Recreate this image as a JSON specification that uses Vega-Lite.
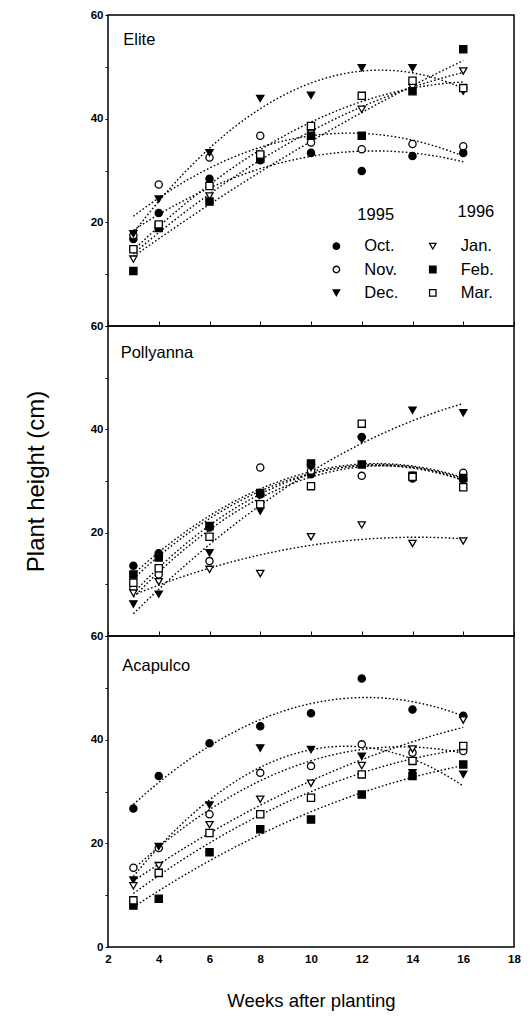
{
  "$schema": "https://vega.github.io/schema/vega-lite/v6.json",
  "background": "white",
  "padding": {"left": 23, "top": 8, "right": 10, "bottom": 10},
  "spacing": 0,
  "bounds": "flush",
  "config": {
    "font": "Liberation Sans",
    "view": {"stroke": "black", "strokeWidth": 1.5},
    "concat": {"spacing": 0},
    "axis": {
      "labelFont": "Liberation Sans",
      "labelFontWeight": "bold",
      "labelFontSize": 11.5,
      "labelColor": "black",
      "tickColor": "black",
      "domainColor": "black",
      "grid": false,
      "titleFont": "Liberation Sans",
      "titleFontWeight": "normal",
      "titleColor": "black"
    }
  },
  "datasets": {
    "heights": [
      {"cultivar": "Elite", "month": "Oct.", "week": 3, "height": 16.8},
      {"cultivar": "Elite", "month": "Oct.", "week": 4, "height": 21.8},
      {"cultivar": "Elite", "month": "Oct.", "week": 6, "height": 28.4},
      {"cultivar": "Elite", "month": "Oct.", "week": 8, "height": 32.0},
      {"cultivar": "Elite", "month": "Oct.", "week": 10, "height": 33.4},
      {"cultivar": "Elite", "month": "Oct.", "week": 12, "height": 29.9},
      {"cultivar": "Elite", "month": "Oct.", "week": 14, "height": 32.8},
      {"cultivar": "Elite", "month": "Oct.", "week": 16, "height": 33.4},
      {"cultivar": "Elite", "month": "Nov.", "week": 3, "height": 17.5},
      {"cultivar": "Elite", "month": "Nov.", "week": 4, "height": 27.3},
      {"cultivar": "Elite", "month": "Nov.", "week": 6, "height": 32.5},
      {"cultivar": "Elite", "month": "Nov.", "week": 8, "height": 36.7},
      {"cultivar": "Elite", "month": "Nov.", "week": 10, "height": 35.4},
      {"cultivar": "Elite", "month": "Nov.", "week": 12, "height": 34.1},
      {"cultivar": "Elite", "month": "Nov.", "week": 14, "height": 35.1},
      {"cultivar": "Elite", "month": "Nov.", "week": 16, "height": 34.7},
      {"cultivar": "Elite", "month": "Dec.", "week": 3, "height": 17.8},
      {"cultivar": "Elite", "month": "Dec.", "week": 4, "height": 24.5},
      {"cultivar": "Elite", "month": "Dec.", "week": 6, "height": 33.4},
      {"cultivar": "Elite", "month": "Dec.", "week": 8, "height": 43.9},
      {"cultivar": "Elite", "month": "Dec.", "week": 10, "height": 44.5},
      {"cultivar": "Elite", "month": "Dec.", "week": 12, "height": 49.8},
      {"cultivar": "Elite", "month": "Dec.", "week": 14, "height": 49.8},
      {"cultivar": "Elite", "month": "Dec.", "week": 16, "height": 45.3},
      {"cultivar": "Elite", "month": "Jan.", "week": 3, "height": 12.9},
      {"cultivar": "Elite", "month": "Jan.", "week": 4, "height": 19.3},
      {"cultivar": "Elite", "month": "Jan.", "week": 6, "height": 25.1},
      {"cultivar": "Elite", "month": "Jan.", "week": 8, "height": 32.8},
      {"cultivar": "Elite", "month": "Jan.", "week": 10, "height": 37.2},
      {"cultivar": "Elite", "month": "Jan.", "week": 12, "height": 41.8},
      {"cultivar": "Elite", "month": "Jan.", "week": 14, "height": 46.0},
      {"cultivar": "Elite", "month": "Jan.", "week": 16, "height": 49.2},
      {"cultivar": "Elite", "month": "Feb.", "week": 3, "height": 10.6},
      {"cultivar": "Elite", "month": "Feb.", "week": 4, "height": 18.9},
      {"cultivar": "Elite", "month": "Feb.", "week": 6, "height": 24.0},
      {"cultivar": "Elite", "month": "Feb.", "week": 8, "height": 32.2},
      {"cultivar": "Elite", "month": "Feb.", "week": 10, "height": 36.7},
      {"cultivar": "Elite", "month": "Feb.", "week": 12, "height": 36.7},
      {"cultivar": "Elite", "month": "Feb.", "week": 14, "height": 45.3},
      {"cultivar": "Elite", "month": "Feb.", "week": 16, "height": 53.4},
      {"cultivar": "Elite", "month": "Mar.", "week": 3, "height": 14.8},
      {"cultivar": "Elite", "month": "Mar.", "week": 4, "height": 19.6},
      {"cultivar": "Elite", "month": "Mar.", "week": 6, "height": 27.0},
      {"cultivar": "Elite", "month": "Mar.", "week": 8, "height": 33.1},
      {"cultivar": "Elite", "month": "Mar.", "week": 10, "height": 38.6},
      {"cultivar": "Elite", "month": "Mar.", "week": 12, "height": 44.4},
      {"cultivar": "Elite", "month": "Mar.", "week": 14, "height": 47.3},
      {"cultivar": "Elite", "month": "Mar.", "week": 16, "height": 45.9},

      {"cultivar": "Pollyanna", "month": "Oct.", "week": 3, "height": 13.6},
      {"cultivar": "Pollyanna", "month": "Oct.", "week": 4, "height": 16.0},
      {"cultivar": "Pollyanna", "month": "Oct.", "week": 6, "height": 21.0},
      {"cultivar": "Pollyanna", "month": "Oct.", "week": 8, "height": 27.4},
      {"cultivar": "Pollyanna", "month": "Oct.", "week": 10, "height": 31.3},
      {"cultivar": "Pollyanna", "month": "Oct.", "week": 12, "height": 38.5},
      {"cultivar": "Pollyanna", "month": "Oct.", "week": 14, "height": 30.5},
      {"cultivar": "Pollyanna", "month": "Oct.", "week": 16, "height": 30.3},
      {"cultivar": "Pollyanna", "month": "Nov.", "week": 3, "height": 9.2},
      {"cultivar": "Pollyanna", "month": "Nov.", "week": 4, "height": 11.9},
      {"cultivar": "Pollyanna", "month": "Nov.", "week": 6, "height": 14.5},
      {"cultivar": "Pollyanna", "month": "Nov.", "week": 8, "height": 32.6},
      {"cultivar": "Pollyanna", "month": "Nov.", "week": 10, "height": 32.0},
      {"cultivar": "Pollyanna", "month": "Nov.", "week": 12, "height": 31.0},
      {"cultivar": "Pollyanna", "month": "Nov.", "week": 14, "height": 31.0},
      {"cultivar": "Pollyanna", "month": "Nov.", "week": 16, "height": 31.6},
      {"cultivar": "Pollyanna", "month": "Dec.", "week": 3, "height": 6.2},
      {"cultivar": "Pollyanna", "month": "Dec.", "week": 4, "height": 8.1},
      {"cultivar": "Pollyanna", "month": "Dec.", "week": 6, "height": 16.1},
      {"cultivar": "Pollyanna", "month": "Dec.", "week": 8, "height": 24.2},
      {"cultivar": "Pollyanna", "month": "Dec.", "week": 10, "height": 32.6},
      {"cultivar": "Pollyanna", "month": "Dec.", "week": 12, "height": 38.0},
      {"cultivar": "Pollyanna", "month": "Dec.", "week": 14, "height": 43.7},
      {"cultivar": "Pollyanna", "month": "Dec.", "week": 16, "height": 43.2},
      {"cultivar": "Pollyanna", "month": "Jan.", "week": 3, "height": 8.3},
      {"cultivar": "Pollyanna", "month": "Jan.", "week": 4, "height": 10.5},
      {"cultivar": "Pollyanna", "month": "Jan.", "week": 6, "height": 12.9},
      {"cultivar": "Pollyanna", "month": "Jan.", "week": 8, "height": 12.1},
      {"cultivar": "Pollyanna", "month": "Jan.", "week": 10, "height": 19.2},
      {"cultivar": "Pollyanna", "month": "Jan.", "week": 12, "height": 21.5},
      {"cultivar": "Pollyanna", "month": "Jan.", "week": 14, "height": 17.9},
      {"cultivar": "Pollyanna", "month": "Jan.", "week": 16, "height": 18.4},
      {"cultivar": "Pollyanna", "month": "Feb.", "week": 3, "height": 11.9},
      {"cultivar": "Pollyanna", "month": "Feb.", "week": 4, "height": 15.2},
      {"cultivar": "Pollyanna", "month": "Feb.", "week": 6, "height": 21.3},
      {"cultivar": "Pollyanna", "month": "Feb.", "week": 8, "height": 27.7},
      {"cultivar": "Pollyanna", "month": "Feb.", "week": 10, "height": 33.4},
      {"cultivar": "Pollyanna", "month": "Feb.", "week": 12, "height": 33.2},
      {"cultivar": "Pollyanna", "month": "Feb.", "week": 14, "height": 31.0},
      {"cultivar": "Pollyanna", "month": "Feb.", "week": 16, "height": 30.6},
      {"cultivar": "Pollyanna", "month": "Mar.", "week": 3, "height": 10.3},
      {"cultivar": "Pollyanna", "month": "Mar.", "week": 4, "height": 13.1},
      {"cultivar": "Pollyanna", "month": "Mar.", "week": 6, "height": 19.2},
      {"cultivar": "Pollyanna", "month": "Mar.", "week": 8, "height": 25.5},
      {"cultivar": "Pollyanna", "month": "Mar.", "week": 10, "height": 29.0},
      {"cultivar": "Pollyanna", "month": "Mar.", "week": 12, "height": 41.1},
      {"cultivar": "Pollyanna", "month": "Mar.", "week": 14, "height": 30.8},
      {"cultivar": "Pollyanna", "month": "Mar.", "week": 16, "height": 28.8},

      {"cultivar": "Acapulco", "month": "Oct.", "week": 3, "height": 26.7},
      {"cultivar": "Acapulco", "month": "Oct.", "week": 4, "height": 33.0},
      {"cultivar": "Acapulco", "month": "Oct.", "week": 6, "height": 39.3},
      {"cultivar": "Acapulco", "month": "Oct.", "week": 8, "height": 42.6},
      {"cultivar": "Acapulco", "month": "Oct.", "week": 10, "height": 45.1},
      {"cultivar": "Acapulco", "month": "Oct.", "week": 12, "height": 51.8},
      {"cultivar": "Acapulco", "month": "Oct.", "week": 14, "height": 45.8},
      {"cultivar": "Acapulco", "month": "Oct.", "week": 16, "height": 44.6},
      {"cultivar": "Acapulco", "month": "Nov.", "week": 3, "height": 15.3},
      {"cultivar": "Acapulco", "month": "Nov.", "week": 4, "height": 19.1},
      {"cultivar": "Acapulco", "month": "Nov.", "week": 6, "height": 25.6},
      {"cultivar": "Acapulco", "month": "Nov.", "week": 8, "height": 33.6},
      {"cultivar": "Acapulco", "month": "Nov.", "week": 10, "height": 34.9},
      {"cultivar": "Acapulco", "month": "Nov.", "week": 12, "height": 39.1},
      {"cultivar": "Acapulco", "month": "Nov.", "week": 14, "height": 37.5},
      {"cultivar": "Acapulco", "month": "Nov.", "week": 16, "height": 37.8},
      {"cultivar": "Acapulco", "month": "Dec.", "week": 3, "height": 12.9},
      {"cultivar": "Acapulco", "month": "Dec.", "week": 4, "height": 19.4},
      {"cultivar": "Acapulco", "month": "Dec.", "week": 6, "height": 27.4},
      {"cultivar": "Acapulco", "month": "Dec.", "week": 8, "height": 38.4},
      {"cultivar": "Acapulco", "month": "Dec.", "week": 10, "height": 38.1},
      {"cultivar": "Acapulco", "month": "Dec.", "week": 12, "height": 36.8},
      {"cultivar": "Acapulco", "month": "Dec.", "week": 14, "height": 33.6},
      {"cultivar": "Acapulco", "month": "Dec.", "week": 16, "height": 33.3},
      {"cultivar": "Acapulco", "month": "Jan.", "week": 3, "height": 11.8},
      {"cultivar": "Acapulco", "month": "Jan.", "week": 4, "height": 15.7},
      {"cultivar": "Acapulco", "month": "Jan.", "week": 6, "height": 23.6},
      {"cultivar": "Acapulco", "month": "Jan.", "week": 8, "height": 28.5},
      {"cultivar": "Acapulco", "month": "Jan.", "week": 10, "height": 31.6},
      {"cultivar": "Acapulco", "month": "Jan.", "week": 12, "height": 35.0},
      {"cultivar": "Acapulco", "month": "Jan.", "week": 14, "height": 38.2},
      {"cultivar": "Acapulco", "month": "Jan.", "week": 16, "height": 43.8},
      {"cultivar": "Acapulco", "month": "Feb.", "week": 3, "height": 8.0},
      {"cultivar": "Acapulco", "month": "Feb.", "week": 4, "height": 9.3},
      {"cultivar": "Acapulco", "month": "Feb.", "week": 6, "height": 18.3},
      {"cultivar": "Acapulco", "month": "Feb.", "week": 8, "height": 22.7},
      {"cultivar": "Acapulco", "month": "Feb.", "week": 10, "height": 24.6},
      {"cultivar": "Acapulco", "month": "Feb.", "week": 12, "height": 29.4},
      {"cultivar": "Acapulco", "month": "Feb.", "week": 14, "height": 33.0},
      {"cultivar": "Acapulco", "month": "Feb.", "week": 16, "height": 35.2},
      {"cultivar": "Acapulco", "month": "Mar.", "week": 3, "height": 9.0},
      {"cultivar": "Acapulco", "month": "Mar.", "week": 4, "height": 14.3},
      {"cultivar": "Acapulco", "month": "Mar.", "week": 6, "height": 22.0},
      {"cultivar": "Acapulco", "month": "Mar.", "week": 8, "height": 25.6},
      {"cultivar": "Acapulco", "month": "Mar.", "week": 10, "height": 28.8},
      {"cultivar": "Acapulco", "month": "Mar.", "week": 12, "height": 33.3},
      {"cultivar": "Acapulco", "month": "Mar.", "week": 14, "height": 35.9},
      {"cultivar": "Acapulco", "month": "Mar.", "week": 16, "height": 38.8}
    ],
    "legendKeys": [
      {"month": "Oct.", "week": 11.0, "height": 15.4, "labelWeek": 12.1},
      {"month": "Nov.", "week": 11.0, "height": 10.9, "labelWeek": 12.1},
      {"month": "Dec.", "week": 11.0, "height": 6.4, "labelWeek": 12.1},
      {"month": "Jan.", "week": 14.8, "height": 15.4, "labelWeek": 15.9},
      {"month": "Feb.", "week": 14.8, "height": 10.9, "labelWeek": 15.9},
      {"month": "Mar.", "week": 14.8, "height": 6.4, "labelWeek": 15.9}
    ],
    "legendYears": [
      {"year": "1995", "week": 12.55, "height": 21.5},
      {"year": "1996", "week": 16.5, "height": 21.9}
    ]
  },
  "vconcat": [
    {
      "width": 406,
      "height": 311,
      "layer": [
        {
          "data": {"name": "heights"},
          "transform": [
            {"filter": "datum.cultivar === 'Elite'"},
            {"regression": "height", "on": "week", "groupby": ["month"], "method": "poly", "order": 2, "extent": [3, 16]}
          ],
          "mark": {"type": "line", "color": "black", "strokeWidth": 1.4, "strokeDash": [1.6, 2.2], "clip": true},
          "encoding": {
            "x": {"field": "week", "type": "quantitative", "scale": {"domain": [2, 18], "nice": false},
                  "axis": {"values": [2, 4, 6, 8, 10, 12, 14, 16, 18], "labels": false, "tickSize": -5, "domain": false, "title": null}},
            "y": {"field": "height", "type": "quantitative", "scale": {"domain": [0, 60], "nice": false},
                  "axis": {"values": [0, 10, 20, 30, 40, 50, 60], "labelExpr": "datum.value % 20 === 0 && datum.value > 0 ? datum.label : ''", "tickSize": 3, "domain": false, "title": null}},
            "detail": {"field": "month"}
          }
        },
        {
          "data": {"name": "heights"},
          "transform": [{"filter": "datum.cultivar === 'Elite'"}],
          "mark": {"type": "point", "filled": true, "stroke": "black", "strokeWidth": 1.3, "size": 52, "opacity": 1},
          "encoding": {
            "x": {"field": "week", "type": "quantitative"},
            "y": {"field": "height", "type": "quantitative"},
            "shape": {"field": "month", "type": "nominal", "legend": null,
                      "scale": {"domain": ["Oct.", "Nov.", "Dec.", "Jan.", "Feb.", "Mar."], "range": ["circle", "circle", "triangle-down", "triangle-down", "square", "square"]}},
            "fill": {"field": "month", "type": "nominal", "legend": null,
                     "scale": {"domain": ["Oct.", "Nov.", "Dec.", "Jan.", "Feb.", "Mar."], "range": ["black", "white", "black", "white", "black", "white"]}}
          }
        },
        {
          "data": {"name": "legendKeys"},
          "mark": {"type": "point", "filled": true, "stroke": "black", "strokeWidth": 1.3, "size": 42, "opacity": 1},
          "encoding": {
            "x": {"field": "week", "type": "quantitative"},
            "y": {"field": "height", "type": "quantitative"},
            "shape": {"field": "month", "type": "nominal", "legend": null},
            "fill": {"field": "month", "type": "nominal", "legend": null}
          }
        },
        {
          "data": {"name": "legendKeys"},
          "mark": {"type": "text", "align": "left", "baseline": "middle", "fontSize": 16.5, "font": "Liberation Sans", "color": "black"},
          "encoding": {
            "x": {"field": "labelWeek", "type": "quantitative"},
            "y": {"field": "height", "type": "quantitative"},
            "text": {"field": "month"}
          }
        },
        {
          "data": {"name": "legendYears"},
          "mark": {"type": "text", "align": "center", "baseline": "middle", "fontSize": 16.5, "font": "Liberation Sans", "color": "black"},
          "encoding": {
            "x": {"field": "week", "type": "quantitative"},
            "y": {"field": "height", "type": "quantitative"},
            "text": {"field": "year"}
          }
        },
        {
          "data": {"values": [{"name": "Elite", "week": 2.6, "height": 55.2}]},
          "mark": {"type": "text", "align": "left", "baseline": "middle", "fontSize": 16.5, "font": "Liberation Sans", "color": "black"},
          "encoding": {
            "x": {"field": "week", "type": "quantitative"},
            "y": {"field": "height", "type": "quantitative"},
            "text": {"field": "name"}
          }
        }
      ]
    },
    {
      "width": 406,
      "height": 310,
      "layer": [
        {
          "data": {"name": "heights"},
          "transform": [
            {"filter": "datum.cultivar === 'Pollyanna'"},
            {"regression": "height", "on": "week", "groupby": ["month"], "method": "poly", "order": 2, "extent": [3, 16]}
          ],
          "mark": {"type": "line", "color": "black", "strokeWidth": 1.4, "strokeDash": [1.6, 2.2], "clip": true},
          "encoding": {
            "x": {"field": "week", "type": "quantitative", "scale": {"domain": [2, 18], "nice": false},
                  "axis": {"values": [2, 4, 6, 8, 10, 12, 14, 16, 18], "labels": false, "tickSize": -5, "domain": false, "title": null}},
            "y": {"field": "height", "type": "quantitative", "scale": {"domain": [0, 60], "nice": false},
                  "axis": {"values": [0, 10, 20, 30, 40, 50, 60], "labelExpr": "datum.value % 20 === 0 && datum.value > 0 ? datum.label : ''", "tickSize": 3, "domain": false,
                           "title": "Plant height (cm)", "titleFontSize": 24, "titlePadding": 42}},
            "detail": {"field": "month"}
          }
        },
        {
          "data": {"name": "heights"},
          "transform": [{"filter": "datum.cultivar === 'Pollyanna'"}],
          "mark": {"type": "point", "filled": true, "stroke": "black", "strokeWidth": 1.3, "size": 52, "opacity": 1},
          "encoding": {
            "x": {"field": "week", "type": "quantitative"},
            "y": {"field": "height", "type": "quantitative"},
            "shape": {"field": "month", "type": "nominal", "legend": null,
                      "scale": {"domain": ["Oct.", "Nov.", "Dec.", "Jan.", "Feb.", "Mar."], "range": ["circle", "circle", "triangle-down", "triangle-down", "square", "square"]}},
            "fill": {"field": "month", "type": "nominal", "legend": null,
                     "scale": {"domain": ["Oct.", "Nov.", "Dec.", "Jan.", "Feb.", "Mar."], "range": ["black", "white", "black", "white", "black", "white"]}}
          }
        },
        {
          "data": {"values": [{"name": "Pollyanna", "week": 2.5, "height": 54.8}]},
          "mark": {"type": "text", "align": "left", "baseline": "middle", "fontSize": 16.5, "font": "Liberation Sans", "color": "black"},
          "encoding": {
            "x": {"field": "week", "type": "quantitative"},
            "y": {"field": "height", "type": "quantitative"},
            "text": {"field": "name"}
          }
        }
      ]
    },
    {
      "width": 406,
      "height": 311,
      "layer": [
        {
          "data": {"name": "heights"},
          "transform": [
            {"filter": "datum.cultivar === 'Acapulco'"},
            {"regression": "height", "on": "week", "groupby": ["month"], "method": "poly", "order": 2, "extent": [3, 16]}
          ],
          "mark": {"type": "line", "color": "black", "strokeWidth": 1.4, "strokeDash": [1.6, 2.2], "clip": true},
          "encoding": {
            "x": {"field": "week", "type": "quantitative", "scale": {"domain": [2, 18], "nice": false},
                  "axis": {"values": [2, 4, 6, 8, 10, 12, 14, 16, 18], "labelFlush": false, "ticks": false, "labelPadding": 6, "domain": false,
                           "title": "Weeks after planting", "titleFontSize": 18.5, "titlePadding": 27}},
            "y": {"field": "height", "type": "quantitative", "scale": {"domain": [0, 60], "nice": false},
                  "axis": {"values": [0, 10, 20, 30, 40, 50, 60], "labelExpr": "datum.value % 20 === 0 ? datum.label : ''", "tickSize": 3, "domain": false, "title": null}},
            "detail": {"field": "month"}
          }
        },
        {
          "data": {"name": "heights"},
          "transform": [{"filter": "datum.cultivar === 'Acapulco'"}],
          "mark": {"type": "point", "filled": true, "stroke": "black", "strokeWidth": 1.3, "size": 52, "opacity": 1},
          "encoding": {
            "x": {"field": "week", "type": "quantitative"},
            "y": {"field": "height", "type": "quantitative"},
            "shape": {"field": "month", "type": "nominal", "legend": null,
                      "scale": {"domain": ["Oct.", "Nov.", "Dec.", "Jan.", "Feb.", "Mar."], "range": ["circle", "circle", "triangle-down", "triangle-down", "square", "square"]}},
            "fill": {"field": "month", "type": "nominal", "legend": null,
                     "scale": {"domain": ["Oct.", "Nov.", "Dec.", "Jan.", "Feb.", "Mar."], "range": ["black", "white", "black", "white", "black", "white"]}}
          }
        },
        {
          "data": {"values": [{"name": "Acapulco", "week": 2.56, "height": 54.3}]},
          "mark": {"type": "text", "align": "left", "baseline": "middle", "fontSize": 16.5, "font": "Liberation Sans", "color": "black"},
          "encoding": {
            "x": {"field": "week", "type": "quantitative"},
            "y": {"field": "height", "type": "quantitative"},
            "text": {"field": "name"}
          }
        }
      ]
    }
  ]
}
